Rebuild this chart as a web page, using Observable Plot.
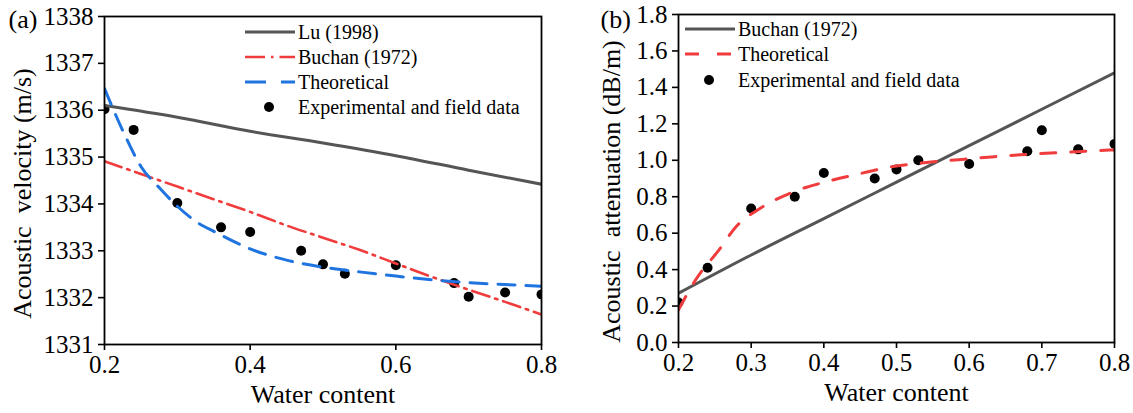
<!DOCTYPE html>
<html><head><meta charset="utf-8">
<script src="https://cdn.jsdelivr.net/npm/d3@7"></script>
<script src="https://cdn.jsdelivr.net/npm/@observablehq/plot@0.6"></script>
<style>
body{margin:0;background:#fff;font-family:"Liberation Serif","Times New Roman",serif;}
#wrap{display:flex;width:1133px;height:413px;overflow:hidden;}
.panel{position:relative;flex:none;}
.panel svg{display:block;}
.panel svg text{font-family:"Liberation Serif","Times New Roman",serif;}
.legend{position:absolute;left:0;top:0;font-size:20px;color:#000;}
.legend .row{position:absolute;white-space:nowrap;display:flex;align-items:center;height:24px;}
.legend .row svg{margin-right:3px;}
</style></head><body>
<div id="wrap"><div class="panel" id="pa"></div><div class="panel" id="pb"></div></div>
<script>
// ---- data ----
const waterContent = [0.2, 0.24, 0.3, 0.36, 0.4, 0.47, 0.5, 0.53, 0.6, 0.68, 0.7, 0.75, 0.8];
const velocityMeasured = [1336.02, 1335.58, 1334.02, 1333.50, 1333.40, 1333.0, 1332.71, 1332.51, 1332.69, 1332.31, 1332.02, 1332.11, 1332.07];
const attenuationMeasured = [0.22, 0.41, 0.735, 0.80, 0.93, 0.90, 0.95, 1.00, 0.98, 1.05, 1.165, 1.06, 1.09];

const luX = [0.2, 0.3, 0.4, 0.5, 0.6, 0.7, 0.8];
const luVelocity = [1336.1, 1335.85, 1335.55, 1335.3, 1335.03, 1334.72, 1334.42];

const buchanVelX = [0.2, 0.25, 0.3, 0.35, 0.4, 0.45, 0.5, 0.55, 0.6, 0.65, 0.7, 0.75, 0.8];
const buchanVelocity = [1334.91, 1334.64, 1334.37, 1334.1, 1333.83, 1333.54, 1333.28, 1333.02, 1332.73, 1332.44, 1332.17, 1331.91, 1331.64];

const theoVelX = [0.2, 0.227, 0.25, 0.275, 0.3, 0.325, 0.352, 0.4, 0.45, 0.5, 0.55, 0.6, 0.65, 0.7, 0.75, 0.8];
const theoVelocity = [1336.46, 1335.5, 1334.8, 1334.35, 1333.95, 1333.63, 1333.4, 1333.04, 1332.8, 1332.65, 1332.55, 1332.46, 1332.38, 1332.32, 1332.28, 1332.24];

const buchanAttX = [0.2, 0.3, 0.4, 0.5, 0.6, 0.7, 0.8];
const buchanAttenuation = [0.27, 0.48, 0.68, 0.88, 1.08, 1.28, 1.48];

const theoAttX = [0.2, 0.223, 0.258, 0.278, 0.312, 0.357, 0.41, 0.45, 0.49, 0.535, 0.585, 0.635, 0.69, 0.73, 0.77, 0.8];
const theoAttenuation = [0.18, 0.34, 0.52, 0.63, 0.735, 0.825, 0.889, 0.927, 0.962, 0.985, 1.003, 1.02, 1.035, 1.043, 1.052, 1.057];

const velocityTicks = [1331, 1332, 1333, 1334, 1335, 1336, 1337, 1338];
const attenuationTicks = [0, 0.2, 0.4, 0.6, 0.8, 1.0, 1.2, 1.4, 1.6, 1.8];
const xTicksA = [0.2, 0.4, 0.6, 0.8];
const xTicksB = [0.2, 0.3, 0.4, 0.5, 0.6, 0.7, 0.8];

const labelsA = {panel: "(a)", x: "Water content", y: "Acoustic\u00a0 velocity (m/s)"};
const labelsB = {panel: "(b)", x: "Water content", y: "Acoustic\u00a0 attenuation (dB/m)"};
const legendA = ["Lu (1998)", "Buchan (1972)", "Theoretical", "Experimental and field data"];
const legendB = ["Buchan (1972)", "Theoretical", "Experimental and field data"];

// ---- styles ----
const FF = '"Liberation Serif","Times New Roman",serif';
const GRAY = "#555555", RED = "#f03c3c", BLUE = "#1f74e0";
const styles = {
  lu: {stroke: GRAY, strokeWidth: 3, dash: null},
  buchanV: {stroke: RED, strokeWidth: 2.6, dash: "18,6,2.5,6"},
  theoV: {stroke: BLUE, strokeWidth: 3, dash: "17,11"},
  buchanA: {stroke: GRAY, strokeWidth: 3, dash: null},
  theoA: {stroke: RED, strokeWidth: 3, dash: "15,15"}
};

const zip = (xs, ys) => xs.map((x, i) => ({x, y: ys[i]}));
const lineMark = (xs, ys, s) => Plot.line(zip(xs, ys), {x: "x", y: "y", stroke: s.stroke, strokeWidth: s.strokeWidth, strokeDasharray: s.dash || undefined, curve: "monotone-x", clip: true});

function axes(xt, yt, yfmt) {
  return [
    Plot.axisX({ticks: xt, tickFormat: d3.format(".1f"), tickSize: 6, tickPadding: 5, strokeWidth: 1.6, fontSize: 25, fontFamily: FF, label: null}),
    Plot.axisY({ticks: yt, tickFormat: yfmt, tickSize: 6, tickPadding: 5, strokeWidth: 1.6, fontSize: 25, fontFamily: FF, label: null})
  ];
}
function titles(lab, o) {
  return [
    Plot.text([lab.x], {text: d => d, frameAnchor: "bottom", dy: 58, lineAnchor: "bottom", textAnchor: "middle", fontSize: 26, fontFamily: FF}),
    Plot.text([lab.y], {text: d => d, frameAnchor: "left", rotate: -90, dx: o.ydx, dy: 13, lineAnchor: "bottom", textAnchor: "middle", fontSize: 26, fontFamily: FF}),
    Plot.text([lab.panel], {text: d => d, frameAnchor: "top-left", dx: o.pdx, dy: o.pdy, textAnchor: "start", lineAnchor: "bottom", fontSize: 26, fontFamily: FF})
  ];
}
const svgStyle = `font-family: ${FF}; font-size: 25px; color: #000; background: #fff; overflow: visible;`;

const plotA = Plot.plot({
  width: 566, height: 413,
  marginLeft: 104, marginRight: 25, marginTop: 16, marginBottom: 69,
  style: svgStyle,
  x: {domain: [0.2, 0.8]},
  y: {domain: [1331, 1338]},
  marks: [
    Plot.dot(zip(waterContent, velocityMeasured), {x: "x", y: "y", r: 5, fill: "#000", stroke: "none", clip: true}),
    lineMark(luX, luVelocity, styles.lu),
    lineMark(buchanVelX, buchanVelocity, styles.buchanV),
    lineMark(theoVelX, theoVelocity, styles.theoV),
    Plot.frame({stroke: "#000", strokeWidth: 1.8}),
    ...axes(xTicksA, velocityTicks, d => String(d)),
    ...titles(labelsA, {ydx: -74, pdx: -96, pdy: 11})
  ]
});

const plotB = Plot.plot({
  width: 567, height: 413,
  marginLeft: 112, marginRight: 19, marginTop: 14, marginBottom: 71,
  style: svgStyle,
  x: {domain: [0.2, 0.8]},
  y: {domain: [0, 1.8]},
  marks: [
    Plot.dot(zip(waterContent, attenuationMeasured), {x: "x", y: "y", r: 5, fill: "#000", stroke: "none", clip: true}),
    lineMark(buchanAttX, buchanAttenuation, styles.buchanA),
    lineMark(theoAttX, theoAttenuation, styles.theoA),
    Plot.frame({stroke: "#000", strokeWidth: 1.8}),
    ...axes(xTicksB, attenuationTicks, d3.format(".1f")),
    ...titles(labelsB, {ydx: -59, pdx: -78, pdy: 13})
  ]
});

document.getElementById("pa").appendChild(plotA);
document.getElementById("pb").appendChild(plotB);

// ---- legends (HTML overlay) ----
function swatch(s) {
  const ns = "http://www.w3.org/2000/svg";
  const svg = document.createElementNS(ns, "svg");
  svg.setAttribute("width", 50); svg.setAttribute("height", 12);
  if (s === "dot") {
    const c = document.createElementNS(ns, "circle");
    c.setAttribute("cx", 24); c.setAttribute("cy", 6); c.setAttribute("r", 5); c.setAttribute("fill", "#000");
    svg.appendChild(c);
  } else {
    const l = document.createElementNS(ns, "line");
    l.setAttribute("x1", 0); l.setAttribute("x2", 50); l.setAttribute("y1", 6); l.setAttribute("y2", 6);
    l.setAttribute("stroke", s.stroke); l.setAttribute("stroke-width", s.strokeWidth);
    if (s.dash) l.setAttribute("stroke-dasharray", s.dash);
    svg.appendChild(l);
  }
  return svg;
}
function legend(host, left, tops, labels, sws) {
  const box = document.createElement("div");
  box.className = "legend";
  labels.forEach((t, i) => {
    const row = document.createElement("div");
    row.className = "row";
    row.style.left = left + "px";
    row.style.top = (tops[i] - 12) + "px";
    row.appendChild(swatch(sws[i]));
    const span = document.createElement("span");
    span.textContent = t;
    row.appendChild(span);
    box.appendChild(row);
  });
  host.appendChild(box);
}
legend(document.getElementById("pa"), 245, [32, 57, 82, 107], legendA,
  [styles.lu, {stroke: RED, strokeWidth: 2.6, dash: "20,6,2.5,6"}, {stroke: BLUE, strokeWidth: 3, dash: "21,15"}, "dot"]);
legend(document.getElementById("pb"), 685 - 566, [29, 54, 80], legendB,
  [styles.buchanA, {stroke: RED, strokeWidth: 3, dash: "14,18"}, "dot"]);
</script>
</body></html>
